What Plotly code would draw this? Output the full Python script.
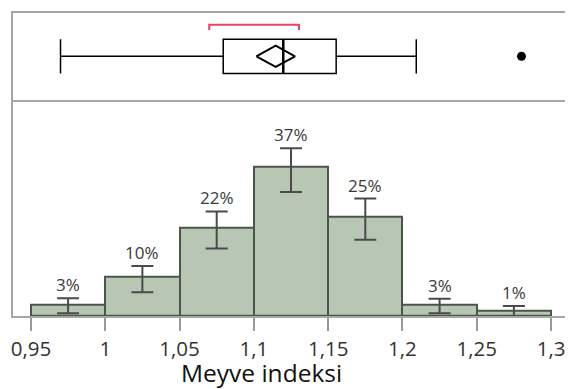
import plotly.graph_objects as go

# ---- data ----
bin_left = [0.95, 1.00, 1.05, 1.10, 1.15, 1.20, 1.25]
bin_width = 0.05
pct = [2.9, 9.8, 21.9, 36.9, 24.7, 2.9, 1.2]
pct_labels = ["3%", "10%", "22%", "37%", "25%", "3%", "1%"]
ci_upper = [4.4, 12.4, 25.9, 41.6, 29.1, 4.3, 2.5]
ci_lower = [0.7, 5.9, 16.7, 30.7, 18.9, 0.7, 0.0]

box_min = 0.9699
box_q1 = 1.0794
box_median = 1.1198
box_q3 = 1.1554
box_max = 1.2093
outliers = [1.2801]
mean_val = 1.1147
mean_ci = [1.1017, 1.1277]
shortest_half = [1.0700, 1.1304]

tick_vals = [0.95, 1.00, 1.05, 1.10, 1.15, 1.20, 1.25, 1.30]
tick_labels = ["0,95", "1", "1,05", "1,1", "1,15", "1,2", "1,25", "1,3"]
x_title = "Meyve indeksi"

# ---- styles ----
bar_fill = "#b8c6b4"
bar_line = "#4b564b"
err_col = "#4a4a4a"
frame_col = "#a6a6a6"

centers = [b + bin_width / 2 for b in bin_left]
err_plus = [u - p for u, p in zip(ci_upper, pct)]
err_minus = [p - l for p, l in zip(pct, ci_lower)]

fig = go.Figure()

fig.add_trace(go.Bar(
    x=centers, y=pct, width=[bin_width] * len(centers),
    marker=dict(color=bar_fill, line=dict(color=bar_line, width=2)),
    error_y=dict(type="data", symmetric=False, array=err_plus, arrayminus=err_minus,
                 color=err_col, thickness=2, width=11),
    xaxis="x", yaxis="y", showlegend=False, hoverinfo="skip",
))

for c, u, t in zip(centers, ci_upper, pct_labels):
    fig.add_annotation(x=c, y=u, xref="x", yref="y", text=t, showarrow=False,
                       yanchor="bottom", yshift=0,
                       font=dict(family="Open Sans", size=17, color="#3a3a3a"))

# ---- box plot panel ----
fig.add_trace(go.Box(
    y=[0], q1=[box_q1], median=[box_median], q3=[box_q3],
    lowerfence=[box_min], upperfence=[box_max], orientation="h",
    width=1, whiskerwidth=1, fillcolor="white",
    line=dict(color="black", width=1.5), boxpoints=False,
    xaxis="x2", yaxis="y2", showlegend=False, hoverinfo="skip",
))
fig.add_trace(go.Scatter(
    x=[box_median, box_median], y=[-0.5, 0.5], mode="lines",
    line=dict(color="black", width=2.5), xaxis="x2", yaxis="y2",
    showlegend=False, hoverinfo="skip"))
h = 0.31
fig.add_trace(go.Scatter(
    x=[mean_ci[0], mean_val, mean_ci[1], mean_val, mean_ci[0]],
    y=[0, h, 0, -h, 0], mode="lines",
    line=dict(color="black", width=2), xaxis="x2", yaxis="y2",
    showlegend=False, hoverinfo="skip"))
fig.add_trace(go.Scatter(
    x=outliers, y=[0] * len(outliers), mode="markers",
    marker=dict(color="black", size=9), xaxis="x2", yaxis="y2",
    showlegend=False, hoverinfo="skip"))
fig.add_trace(go.Scatter(
    x=[shortest_half[0], shortest_half[0], shortest_half[1], shortest_half[1]],
    y=[0.77, 0.92, 0.92, 0.77], mode="lines",
    line=dict(color="#e3445e", width=2), xaxis="x2", yaxis="y2",
    showlegend=False, hoverinfo="skip"))

xr = [0.93793, 1.3114]
split = 0.7138

fig.update_layout(
    width=565, height=381,
    margin=dict(l=5, r=3, t=4, b=73),
    paper_bgcolor="white", plot_bgcolor="white",
    bargap=0,
    xaxis=dict(range=xr, tickvals=tick_vals, ticktext=tick_labels,
               ticks="outside", ticklen=13, tickwidth=1.5, tickcolor="#9a9a9a",
               ticklabelstandoff=1,
               showline=True, linecolor=frame_col, linewidth=1.5,
               showgrid=False, zeroline=False,
               tickfont=dict(family="Open Sans", size=20.5, color="#333333"),
               anchor="y"),
    yaxis=dict(domain=[0, split], range=[0, 53.6], showticklabels=False,
               showgrid=False, zeroline=False, showline=True, mirror=True,
               linecolor=frame_col, linewidth=1.5, ticks=""),
    xaxis2=dict(range=xr, matches="x", showticklabels=False, ticks="",
                showgrid=False, zeroline=False, showline=True, mirror=True,
                linecolor=frame_col, linewidth=1.5, anchor="y2"),
    yaxis2=dict(domain=[split, 1], range=[-1.265, 1.265], showticklabels=False,
                showgrid=False, zeroline=False, showline=True, mirror=True,
                linecolor=frame_col, linewidth=1.5, ticks=""),
)

fig.add_annotation(x=0.447, y=-0.186, xref="paper", yref="paper",
                   text=x_title, showarrow=False, yanchor="middle",
                   font=dict(family="Open Sans", size=24.5, color="#111111"))

fig.write_html("out.html")
